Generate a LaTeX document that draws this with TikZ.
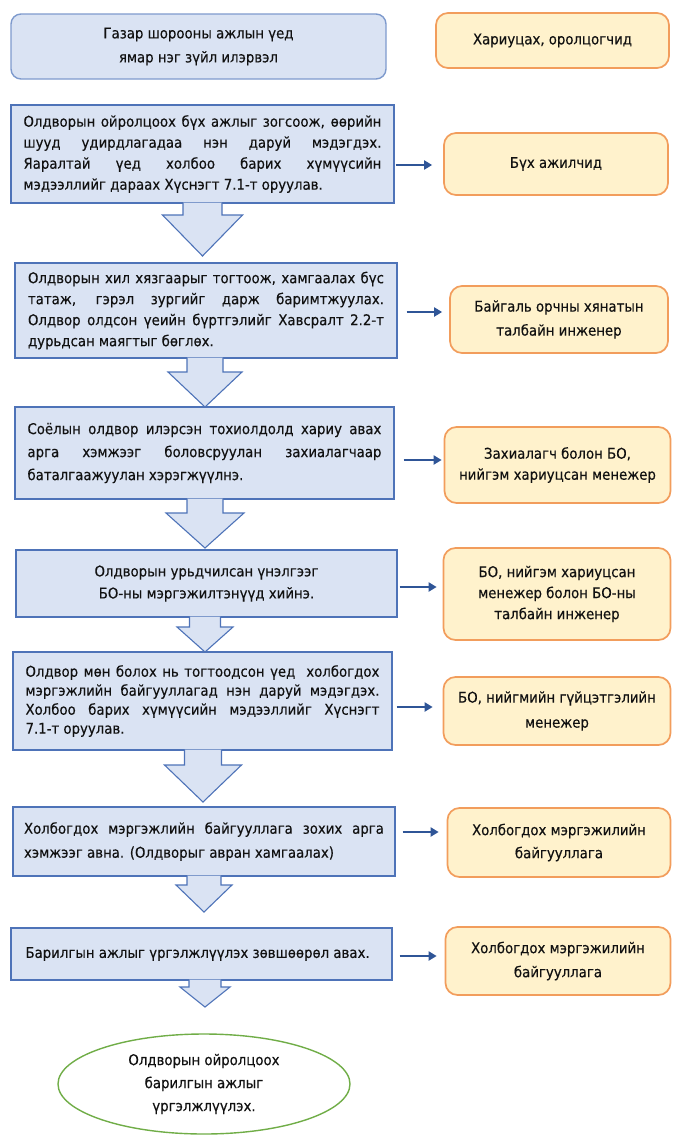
\documentclass[tikz,border=0pt]{standalone}
\usepackage{fontspec}
\setmainfont{DejaVu Sans Condensed}[FakeBold=0.3]
\usetikzlibrary{arrows.meta,shapes.geometric}
\definecolor{bfill}{HTML}{DAE3F3}
\definecolor{bline}{HTML}{4E73B8}
\definecolor{aline}{HTML}{7E9ACD}
\definecolor{ofill}{HTML}{FFF2CC}
\definecolor{oline}{HTML}{F29D5C}
\definecolor{cline}{HTML}{2F5597}
\definecolor{gline}{HTML}{70AD47}
\definecolor{txt}{HTML}{111111}
\newcommand\Jl[1]{\hbox to\hsize{#1}}
\newcommand\Ll[1]{\hbox to\hsize{#1\hfil}}
\newcommand\Cl[1]{\hbox to\hsize{\hfil#1\hfil}}
\newcommand\Para[3]{\vbox{\hsize=#1pt\baselineskip=#2pt #3}}
\newcommand\Barrow[6]{%
  \draw[barrow] (#1-#5,#2) -- (#1-#5,#3) -- (#1-#6,#3) -- (#1,#4) -- (#1+#6,#3) -- (#1+#5,#3) -- (#1+#5,#2);}
\tikzset{
  base/.style={text=txt, font=\fontsize{14.8}{20}\selectfont, inner sep=0pt},
  lbox/.style={base, rectangle, draw=bline, line width=1.4pt, fill=bfill},
  abox/.style={base, rectangle, draw=aline, line width=1.4pt, fill=bfill, rounded corners=10pt},
  obox/.style={base, rectangle, draw=oline, line width=1.7pt, fill=ofill, rounded corners=12pt},
  conn/.style={draw=cline, line width=2.6pt, -{Triangle[length=8pt,width=9pt]}},
  barrow/.style={draw=bline, line width=1.1pt, fill=bfill, line join=miter},
  ell/.style={base, ellipse, draw=gline, line width=1.4pt, fill=white},
}
\begin{document}
\begin{tikzpicture}[x=1pt,y=-1pt]
\useasboundingbox (0,0) rectangle (675,1135);
% left column
\node[abox, minimum width=375pt, minimum height=65pt] (A) at (198.5,46.5)
  {\Para{330}{24}{\Cl{Газар шорооны ажлын үед}\Cl{ямар нэг зүйл илэрвэл}}};
\node[lbox, minimum width=383pt, minimum height=98pt] (B1) at (202.5,154)
  {\Para{358}{21}{\Jl{Олдворын ойролцоох бүх ажлыг зогсоож, өөрийн}\Jl{шууд удирдлагадаа нэн даруй мэдэгдэх.}\Jl{Яаралтай үед холбоо барих хүмүүсийн}\Ll{мэдээллийг дараах Хүснэгт 7.1-т оруулав.}}};
\node[lbox, minimum width=382pt, minimum height=95pt] (B2) at (206,310.5)
  {\Para{356}{21}{\Jl{Олдворын хил хязгаарыг тогтоож, хамгаалах бүс}\Jl{татаж, гэрэл зургийг дарж баримтжуулах.}\Jl{Олдвор олдсон үеийн бүртгэлийг Хавсралт 2.2-т}\Ll{дурьдсан маягтыг бөглөх.}}};
\node[lbox, minimum width=379pt, minimum height=92pt] (B3) at (204.5,453)
  {\Para{354}{23}{\Jl{Соёлын олдвор илэрсэн тохиолдолд хариу авах}\Jl{арга хэмжээг боловсруулан захиалагчаар}\Ll{баталгаажуулан хэрэгжүүлнэ.}}};
\node[lbox, minimum width=381pt, minimum height=67pt] (B4) at (206.5,583.5)
  {\Para{354}{22}{\Cl{Олдворын урьдчилсан үнэлгээг}\Cl{БО-ны мэргэжилтэнүүд хийнэ.}}};
\node[lbox, minimum width=379pt, minimum height=98pt] (B5) at (202.5,701)
  {\Para{354}{19}{\Jl{Олдвор мөн болох нь тогтоодсон үед \ холбогдох}\Jl{мэргэжлийн байгууллагад нэн даруй мэдэгдэх.}\Jl{Холбоо барих хүмүүсийн мэдээллийг Хүснэгт}\Ll{7.1-т оруулав.}}};
\node[lbox, minimum width=382pt, minimum height=69pt] (B6) at (204,841.5)
  {\Para{360}{24}{\Jl{Холбогдох мэргэжлийн байгууллага зохих арга}\Ll{хэмжээг авна. (Олдворыг авран хамгаалах)}}};
\node[lbox, minimum width=381pt, minimum height=52pt] (B7) at (201.5,954)
  {\Para{352}{20}{\Ll{Барилгын ажлыг үргэлжлүүлэх зөвшөөрөл авах.}}};
\node[ell, minimum width=292pt, minimum height=100pt] (E) at (204,1084)
  {\Para{200}{23}{\Cl{Олдворын ойролцоох}\Cl{барилгын ажлыг}\Cl{үргэлжлүүлэх.}}};
% right column
\node[obox, minimum width=233pt, minimum height=55pt] (R0) at (552.5,40.5) {Хариуцах, оролцогчид};
\node[obox, minimum width=224pt, minimum height=62pt] (R1) at (556,164) {Бүх ажилчид};
\node[obox, minimum width=218pt, minimum height=67pt] (R2) at (559,319.5)
  {\Para{214}{24}{\Cl{Байгаль орчны хянатын}\Cl{талбайн инженер}}};
\node[obox, minimum width=226pt, minimum height=76pt] (R3) at (557.5,465)
  {\Para{222}{21}{\Cl{Захиалагч болон БО,}\Cl{нийгэм хариуцсан менежер}}};
\node[obox, minimum width=227pt, minimum height=92pt] (R4) at (557,594)
  {\Para{222}{21}{\Cl{БО, нийгэм хариуцсан}\Cl{менежер болон БО-ны}\Cl{талбайн инженер}}};
\node[obox, minimum width=227pt, minimum height=68pt] (R5) at (557,711)
  {\Para{222}{25}{\Cl{БО, нийгмийн гүйцэтгэлийн}\Cl{менежер}}};
\node[obox, minimum width=223pt, minimum height=69pt] (R6) at (559,842.5)
  {\Para{218}{23}{\Cl{Холбогдох мэргэжилийн}\Cl{байгууллага}}};
\node[obox, minimum width=225pt, minimum height=68pt] (R7) at (558,961)
  {\Para{218}{24}{\Cl{Холбогдох мэргэжилийн}\Cl{байгууллага}}};
% block arrows
\Barrow{202.5}{202.5}{215}{256}{19.5}{40}
\Barrow{205}{357.5}{372}{407}{18}{37}
\Barrow{205}{498.5}{513}{548}{18}{39}
\Barrow{205}{616.5}{627}{652}{15.5}{28}
\Barrow{203}{749.5}{765}{802}{18.5}{38.5}
\Barrow{204}{875.5}{885}{912}{17}{28}
\Barrow{205}{979.5}{987}{1007}{16}{25}
% connectors
\coordinate (y1) at (0,165);
\coordinate (y2) at (0,312);
\coordinate (y3) at (0,460);
\coordinate (y4) at (0,587);
\coordinate (y5) at (0,707);
\coordinate (y6) at (0,832);
\coordinate (y7) at (0,956);
\draw[conn, shorten <=1pt, shorten >=11pt] (B1.east |- y1) -- (R1.west |- y1);
\draw[conn, shorten <=9pt, shorten >=7pt] (B2.east |- y2) -- (R2.west |- y2);
\draw[conn, shorten <=9pt, shorten >=2pt] (B3.east |- y3) -- (R3.west |- y3);
\draw[conn, shorten <=2pt, shorten >=6pt] (B4.east |- y4) -- (R4.west |- y4);
\draw[conn, shorten <=4pt, shorten >=10pt] (B5.east |- y5) -- (R5.west |- y5);
\draw[conn, shorten <=7pt, shorten >=8pt] (B6.east |- y6) -- (R6.west |- y6);
\draw[conn, shorten <=7pt, shorten >=8pt] (B7.east |- y7) -- (R7.west |- y7);
\end{tikzpicture}
\end{document}
